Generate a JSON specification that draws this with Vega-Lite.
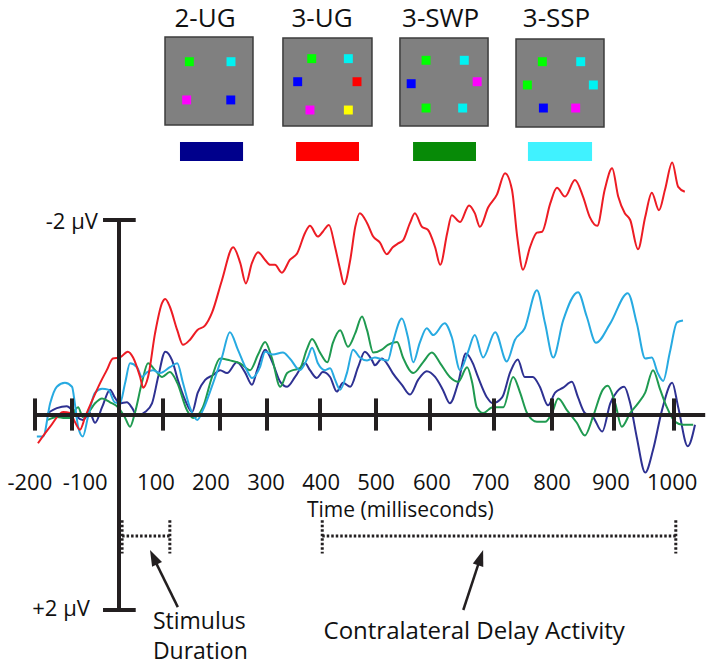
{
"$schema":"https://vega.github.io/schema/vega-lite/v6.json",
"width":714,"height":669,"padding":0,"autosize":{"type":"none"},
"background":"white",
"config":{"view":{"stroke":null},"text":{"font":"Open Sans","color":"#111111"}},
"datasets":{
"erp":[
{"c":"2-UG","t":-165,"v":-0.02},{"c":"2-UG","t":-141,"v":-0.07},{"c":"2-UG","t":-114,"v":-0.09},{"c":"2-UG","t":-100,"v":-0.05},{"c":"2-UG","t":-89,"v":0.02},{"c":"2-UG","t":-77,"v":0.05},{"c":"2-UG","t":-62,"v":-0.02},{"c":"2-UG","t":-51,"v":0.08},{"c":"2-UG","t":-36,"v":-0.08},{"c":"2-UG","t":-19,"v":-0.26},{"c":"2-UG","t":-9,"v":-0.18},{"c":"2-UG","t":2,"v":-0.12},{"c":"2-UG","t":18,"v":-0.13},{"c":"2-UG","t":30,"v":-0.07},{"c":"2-UG","t":41,"v":0.01},{"c":"2-UG","t":59,"v":-0.03},{"c":"2-UG","t":75,"v":-0.12},{"c":"2-UG","t":89,"v":-0.39},{"c":"2-UG","t":104,"v":-0.65},{"c":"2-UG","t":116,"v":-0.56},{"c":"2-UG","t":126,"v":-0.36},{"c":"2-UG","t":139,"v":-0.15},{"c":"2-UG","t":151,"v":-0.03},{"c":"2-UG","t":161,"v":-0.23},{"c":"2-UG","t":174,"v":-0.36},{"c":"2-UG","t":188,"v":-0.41},{"c":"2-UG","t":200,"v":-0.46},{"c":"2-UG","t":215,"v":-0.43},{"c":"2-UG","t":236,"v":-0.54},{"c":"2-UG","t":253,"v":-0.44},{"c":"2-UG","t":268,"v":-0.31},{"c":"2-UG","t":279,"v":-0.46},{"c":"2-UG","t":296,"v":-0.67},{"c":"2-UG","t":311,"v":-0.53},{"c":"2-UG","t":325,"v":-0.34},{"c":"2-UG","t":338,"v":-0.29},{"c":"2-UG","t":353,"v":-0.39},{"c":"2-UG","t":372,"v":-0.53},{"c":"2-UG","t":381,"v":-0.46},{"c":"2-UG","t":394,"v":-0.38},{"c":"2-UG","t":405,"v":-0.44},{"c":"2-UG","t":418,"v":-0.39},{"c":"2-UG","t":430,"v":-0.24},{"c":"2-UG","t":441,"v":-0.33},{"c":"2-UG","t":454,"v":-0.29},{"c":"2-UG","t":468,"v":-0.49},{"c":"2-UG","t":480,"v":-0.65},{"c":"2-UG","t":493,"v":-0.56},{"c":"2-UG","t":498,"v":-0.51},{"c":"2-UG","t":511,"v":-0.58},{"c":"2-UG","t":520,"v":-0.53},{"c":"2-UG","t":531,"v":-0.43},{"c":"2-UG","t":548,"v":-0.31},{"c":"2-UG","t":563,"v":-0.21},{"c":"2-UG","t":578,"v":-0.36},{"c":"2-UG","t":594,"v":-0.45},{"c":"2-UG","t":608,"v":-0.39},{"c":"2-UG","t":620,"v":-0.26},{"c":"2-UG","t":631,"v":-0.12},{"c":"2-UG","t":644,"v":-0.33},{"c":"2-UG","t":656,"v":-0.63},{"c":"2-UG","t":667,"v":-0.53},{"c":"2-UG","t":675,"v":-0.39},{"c":"2-UG","t":689,"v":-0.18},{"c":"2-UG","t":698,"v":-0.12},{"c":"2-UG","t":714,"v":-0.18},{"c":"2-UG","t":728,"v":-0.44},{"c":"2-UG","t":741,"v":-0.57},{"c":"2-UG","t":753,"v":-0.39},{"c":"2-UG","t":767,"v":-0.39},{"c":"2-UG","t":779,"v":-0.29},{"c":"2-UG","t":793,"v":-0.10},{"c":"2-UG","t":805,"v":-0.23},{"c":"2-UG","t":818,"v":-0.28},{"c":"2-UG","t":832,"v":-0.34},{"c":"2-UG","t":842,"v":-0.18},{"c":"2-UG","t":853,"v":-0.02},{"c":"2-UG","t":866,"v":0.02},{"c":"2-UG","t":881,"v":0.17},{"c":"2-UG","t":894,"v":-0.12},{"c":"2-UG","t":905,"v":-0.24},{"c":"2-UG","t":917,"v":-0.29},{"c":"2-UG","t":927,"v":-0.12},{"c":"2-UG","t":938,"v":0.23},{"c":"2-UG","t":952,"v":0.59},{"c":"2-UG","t":965,"v":0.36},{"c":"2-UG","t":980,"v":-0.05},{"c":"2-UG","t":997,"v":-0.33},{"c":"2-UG","t":1007,"v":-0.08},{"c":"2-UG","t":1023,"v":0.32},{"c":"2-UG","t":1035,"v":0.10},
{"c":"3-SWP","t":-165,"v":0.05},{"c":"3-SWP","t":-141,"v":0.02},{"c":"3-SWP","t":-119,"v":0.03},{"c":"3-SWP","t":-105,"v":0.03},{"c":"3-SWP","t":-94,"v":-0.05},{"c":"3-SWP","t":-87,"v":-0.08},{"c":"3-SWP","t":-77,"v":0.02},{"c":"3-SWP","t":-66,"v":-0.02},{"c":"3-SWP","t":-51,"v":-0.12},{"c":"3-SWP","t":-36,"v":-0.17},{"c":"3-SWP","t":-19,"v":-0.13},{"c":"3-SWP","t":-2,"v":-0.08},{"c":"3-SWP","t":14,"v":0.03},{"c":"3-SWP","t":25,"v":0.12},{"c":"3-SWP","t":36,"v":-0.02},{"c":"3-SWP","t":52,"v":-0.33},{"c":"3-SWP","t":66,"v":-0.53},{"c":"3-SWP","t":82,"v":-0.46},{"c":"3-SWP","t":98,"v":-0.39},{"c":"3-SWP","t":112,"v":-0.44},{"c":"3-SWP","t":125,"v":-0.33},{"c":"3-SWP","t":142,"v":-0.05},{"c":"3-SWP","t":153,"v":0.03},{"c":"3-SWP","t":170,"v":-0.08},{"c":"3-SWP","t":186,"v":-0.39},{"c":"3-SWP","t":200,"v":-0.58},{"c":"3-SWP","t":221,"v":-0.56},{"c":"3-SWP","t":243,"v":-0.53},{"c":"3-SWP","t":264,"v":-0.46},{"c":"3-SWP","t":281,"v":-0.62},{"c":"3-SWP","t":296,"v":-0.75},{"c":"3-SWP","t":309,"v":-0.59},{"c":"3-SWP","t":325,"v":-0.29},{"c":"3-SWP","t":338,"v":-0.43},{"c":"3-SWP","t":349,"v":-0.46},{"c":"3-SWP","t":362,"v":-0.48},{"c":"3-SWP","t":375,"v":-0.67},{"c":"3-SWP","t":385,"v":-0.78},{"c":"3-SWP","t":400,"v":-0.64},{"c":"3-SWP","t":413,"v":-0.54},{"c":"3-SWP","t":423,"v":-0.74},{"c":"3-SWP","t":436,"v":-0.87},{"c":"3-SWP","t":450,"v":-0.70},{"c":"3-SWP","t":463,"v":-0.84},{"c":"3-SWP","t":475,"v":-1.01},{"c":"3-SWP","t":484,"v":-0.87},{"c":"3-SWP","t":495,"v":-0.64},{"c":"3-SWP","t":511,"v":-0.67},{"c":"3-SWP","t":522,"v":-0.72},{"c":"3-SWP","t":539,"v":-0.75},{"c":"3-SWP","t":550,"v":-0.59},{"c":"3-SWP","t":569,"v":-0.43},{"c":"3-SWP","t":587,"v":-0.54},{"c":"3-SWP","t":603,"v":-0.64},{"c":"3-SWP","t":616,"v":-0.53},{"c":"3-SWP","t":631,"v":-0.39},{"c":"3-SWP","t":644,"v":-0.34},{"c":"3-SWP","t":658,"v":-0.49},{"c":"3-SWP","t":666,"v":-0.33},{"c":"3-SWP","t":673,"v":-0.08},{"c":"3-SWP","t":683,"v":-0.02},{"c":"3-SWP","t":698,"v":-0.08},{"c":"3-SWP","t":716,"v":-0.08},{"c":"3-SWP","t":733,"v":-0.39},{"c":"3-SWP","t":745,"v":-0.23},{"c":"3-SWP","t":757,"v":-0.02},{"c":"3-SWP","t":774,"v":0.07},{"c":"3-SWP","t":788,"v":0.07},{"c":"3-SWP","t":800,"v":-0.02},{"c":"3-SWP","t":810,"v":-0.17},{"c":"3-SWP","t":824,"v":-0.05},{"c":"3-SWP","t":840,"v":0.08},{"c":"3-SWP","t":853,"v":0.21},{"c":"3-SWP","t":866,"v":0.02},{"c":"3-SWP","t":882,"v":-0.26},{"c":"3-SWP","t":890,"v":-0.30},{"c":"3-SWP","t":902,"v":-0.12},{"c":"3-SWP","t":913,"v":0.12},{"c":"3-SWP","t":927,"v":-0.02},{"c":"3-SWP","t":940,"v":-0.12},{"c":"3-SWP","t":952,"v":-0.23},{"c":"3-SWP","t":965,"v":-0.46},{"c":"3-SWP","t":977,"v":-0.26},{"c":"3-SWP","t":988,"v":-0.08},{"c":"3-SWP","t":1002,"v":0.07},{"c":"3-SWP","t":1015,"v":0.10},{"c":"3-SWP","t":1032,"v":0.10},
{"c":"3-SSP","t":-195,"v":0.22},{"c":"3-SSP","t":-178,"v":0.22},{"c":"3-SSP","t":-159,"v":-0.12},{"c":"3-SSP","t":-141,"v":-0.29},{"c":"3-SSP","t":-119,"v":-0.33},{"c":"3-SSP","t":-100,"v":-0.29},{"c":"3-SSP","t":-94,"v":-0.12},{"c":"3-SSP","t":-87,"v":0.12},{"c":"3-SSP","t":-77,"v":0.22},{"c":"3-SSP","t":-66,"v":0.02},{"c":"3-SSP","t":-51,"v":-0.23},{"c":"3-SSP","t":-36,"v":-0.27},{"c":"3-SSP","t":-23,"v":-0.26},{"c":"3-SSP","t":-9,"v":-0.13},{"c":"3-SSP","t":2,"v":-0.12},{"c":"3-SSP","t":14,"v":-0.33},{"c":"3-SSP","t":25,"v":-0.53},{"c":"3-SSP","t":41,"v":-0.49},{"c":"3-SSP","t":52,"v":-0.39},{"c":"3-SSP","t":64,"v":-0.44},{"c":"3-SSP","t":77,"v":-0.46},{"c":"3-SSP","t":93,"v":-0.43},{"c":"3-SSP","t":112,"v":-0.49},{"c":"3-SSP","t":125,"v":-0.53},{"c":"3-SSP","t":135,"v":-0.33},{"c":"3-SSP","t":147,"v":-0.08},{"c":"3-SSP","t":160,"v":0.05},{"c":"3-SSP","t":170,"v":-0.05},{"c":"3-SSP","t":188,"v":-0.33},{"c":"3-SSP","t":204,"v":-0.59},{"c":"3-SSP","t":221,"v":-0.85},{"c":"3-SSP","t":238,"v":-0.67},{"c":"3-SSP","t":257,"v":-0.46},{"c":"3-SSP","t":268,"v":-0.38},{"c":"3-SSP","t":285,"v":-0.49},{"c":"3-SSP","t":296,"v":-0.65},{"c":"3-SSP","t":311,"v":-0.62},{"c":"3-SSP","t":330,"v":-0.64},{"c":"3-SSP","t":343,"v":-0.58},{"c":"3-SSP","t":362,"v":-0.46},{"c":"3-SSP","t":377,"v":-0.59},{"c":"3-SSP","t":385,"v":-0.69},{"c":"3-SSP","t":396,"v":-0.53},{"c":"3-SSP","t":409,"v":-0.46},{"c":"3-SSP","t":418,"v":-0.48},{"c":"3-SSP","t":427,"v":-0.36},{"c":"3-SSP","t":436,"v":-0.26},{"c":"3-SSP","t":448,"v":-0.43},{"c":"3-SSP","t":459,"v":-0.67},{"c":"3-SSP","t":471,"v":-0.59},{"c":"3-SSP","t":484,"v":-0.56},{"c":"3-SSP","t":498,"v":-0.59},{"c":"3-SSP","t":511,"v":-0.57},{"c":"3-SSP","t":522,"v":-0.56},{"c":"3-SSP","t":531,"v":-0.74},{"c":"3-SSP","t":548,"v":-0.99},{"c":"3-SSP","t":559,"v":-0.80},{"c":"3-SSP","t":569,"v":-0.54},{"c":"3-SSP","t":581,"v":-0.74},{"c":"3-SSP","t":594,"v":-0.89},{"c":"3-SSP","t":605,"v":-0.82},{"c":"3-SSP","t":623,"v":-0.94},{"c":"3-SSP","t":634,"v":-0.80},{"c":"3-SSP","t":647,"v":-0.46},{"c":"3-SSP","t":659,"v":-0.64},{"c":"3-SSP","t":670,"v":-0.82},{"c":"3-SSP","t":683,"v":-0.59},{"c":"3-SSP","t":702,"v":-0.85},{"c":"3-SSP","t":722,"v":-0.55},{"c":"3-SSP","t":736,"v":-0.77},{"c":"3-SSP","t":753,"v":-0.89},{"c":"3-SSP","t":774,"v":-1.28},{"c":"3-SSP","t":788,"v":-0.94},{"c":"3-SSP","t":802,"v":-0.59},{"c":"3-SSP","t":818,"v":-0.97},{"c":"3-SSP","t":842,"v":-1.26},{"c":"3-SSP","t":856,"v":-1.01},{"c":"3-SSP","t":871,"v":-0.74},{"c":"3-SSP","t":894,"v":-0.94},{"c":"3-SSP","t":923,"v":-1.25},{"c":"3-SSP","t":938,"v":-0.94},{"c":"3-SSP","t":952,"v":-0.58},{"c":"3-SSP","t":963,"v":-0.59},{"c":"3-SSP","t":973,"v":-0.43},{"c":"3-SSP","t":982,"v":-0.35},{"c":"3-SSP","t":993,"v":-0.64},{"c":"3-SSP","t":1005,"v":-0.95},{"c":"3-SSP","t":1015,"v":-0.97},
{"c":"3-UG","t":-192,"v":0.29},{"c":"3-UG","t":-159,"v":0.12},{"c":"3-UG","t":-124,"v":-0.03},{"c":"3-UG","t":-105,"v":-0.02},{"c":"3-UG","t":-94,"v":0.07},{"c":"3-UG","t":-83,"v":0.15},{"c":"3-UG","t":-72,"v":0.02},{"c":"3-UG","t":-57,"v":-0.15},{"c":"3-UG","t":-40,"v":-0.33},{"c":"3-UG","t":-26,"v":-0.46},{"c":"3-UG","t":-13,"v":-0.58},{"c":"3-UG","t":2,"v":-0.59},{"c":"3-UG","t":20,"v":-0.65},{"c":"3-UG","t":32,"v":-0.59},{"c":"3-UG","t":48,"v":-0.39},{"c":"3-UG","t":55,"v":-0.28},{"c":"3-UG","t":66,"v":-0.39},{"c":"3-UG","t":82,"v":-0.84},{"c":"3-UG","t":98,"v":-1.15},{"c":"3-UG","t":104,"v":-1.19},{"c":"3-UG","t":112,"v":-1.11},{"c":"3-UG","t":125,"v":-0.87},{"c":"3-UG","t":135,"v":-0.72},{"c":"3-UG","t":147,"v":-0.77},{"c":"3-UG","t":160,"v":-0.87},{"c":"3-UG","t":174,"v":-0.92},{"c":"3-UG","t":186,"v":-1.05},{"c":"3-UG","t":204,"v":-1.38},{"c":"3-UG","t":228,"v":-1.72},{"c":"3-UG","t":243,"v":-1.56},{"c":"3-UG","t":255,"v":-1.35},{"c":"3-UG","t":268,"v":-1.56},{"c":"3-UG","t":281,"v":-1.67},{"c":"3-UG","t":296,"v":-1.59},{"c":"3-UG","t":306,"v":-1.54},{"c":"3-UG","t":315,"v":-1.54},{"c":"3-UG","t":328,"v":-1.46},{"c":"3-UG","t":343,"v":-1.59},{"c":"3-UG","t":357,"v":-1.66},{"c":"3-UG","t":372,"v":-1.87},{"c":"3-UG","t":381,"v":-1.94},{"c":"3-UG","t":396,"v":-1.83},{"c":"3-UG","t":405,"v":-1.88},{"c":"3-UG","t":416,"v":-1.95},{"c":"3-UG","t":427,"v":-1.72},{"c":"3-UG","t":436,"v":-1.49},{"c":"3-UG","t":443,"v":-1.34},{"c":"3-UG","t":454,"v":-1.59},{"c":"3-UG","t":463,"v":-1.93},{"c":"3-UG","t":471,"v":-2.07},{"c":"3-UG","t":484,"v":-1.97},{"c":"3-UG","t":495,"v":-1.83},{"c":"3-UG","t":507,"v":-1.77},{"c":"3-UG","t":520,"v":-1.65},{"c":"3-UG","t":531,"v":-1.72},{"c":"3-UG","t":541,"v":-1.76},{"c":"3-UG","t":550,"v":-1.79},{"c":"3-UG","t":563,"v":-1.97},{"c":"3-UG","t":572,"v":-2.07},{"c":"3-UG","t":585,"v":-1.93},{"c":"3-UG","t":596,"v":-1.90},{"c":"3-UG","t":608,"v":-1.72},{"c":"3-UG","t":616,"v":-1.54},{"c":"3-UG","t":627,"v":-1.87},{"c":"3-UG","t":634,"v":-2.05},{"c":"3-UG","t":647,"v":-1.98},{"c":"3-UG","t":661,"v":-2.15},{"c":"3-UG","t":670,"v":-2.07},{"c":"3-UG","t":678,"v":-1.93},{"c":"3-UG","t":691,"v":-2.13},{"c":"3-UG","t":705,"v":-2.26},{"c":"3-UG","t":719,"v":-2.48},{"c":"3-UG","t":731,"v":-2.31},{"c":"3-UG","t":740,"v":-1.83},{"c":"3-UG","t":750,"v":-1.49},{"c":"3-UG","t":762,"v":-1.72},{"c":"3-UG","t":774,"v":-1.87},{"c":"3-UG","t":783,"v":-1.88},{"c":"3-UG","t":797,"v":-2.17},{"c":"3-UG","t":808,"v":-2.33},{"c":"3-UG","t":821,"v":-2.24},{"c":"3-UG","t":837,"v":-2.41},{"c":"3-UG","t":850,"v":-2.24},{"c":"3-UG","t":861,"v":-2.03},{"c":"3-UG","t":873,"v":-1.94},{"c":"3-UG","t":885,"v":-2.31},{"c":"3-UG","t":897,"v":-2.53},{"c":"3-UG","t":907,"v":-2.24},{"c":"3-UG","t":918,"v":-2.07},{"c":"3-UG","t":927,"v":-2.00},{"c":"3-UG","t":940,"v":-1.70},{"c":"3-UG","t":952,"v":-2.03},{"c":"3-UG","t":963,"v":-2.28},{"c":"3-UG","t":975,"v":-2.10},{"c":"3-UG","t":985,"v":-2.31},{"c":"3-UG","t":997,"v":-2.59},{"c":"3-UG","t":1007,"v":-2.34},{"c":"3-UG","t":1018,"v":-2.29}
],
"ticks":[{"t":-200,"lt":-214,"label":"-200"},{"t":-100,"lt":-72,"label":"-100"},{"t":100,"lt":84,"label":"100"},{"t":200,"lt":184,"label":"200"},{"t":300,"lt":298,"label":"300"},{"t":400,"lt":402,"label":"400"},{"t":500,"lt":500,"label":"500"},{"t":600,"lt":603,"label":"600"},{"t":700,"lt":695,"label":"700"},{"t":800,"lt":800,"label":"800"},{"t":900,"lt":895,"label":"900"},{"t":1000,"lt":997,"label":"1000"}],
"panels":[
{"c":"2-UG","x0":-3.76,"x1":3.76,"y0":-3.76,"y1":3.76,"tx":-0.34,"bx0":-2.48,"bx1":2.91},
{"c":"3-UG","x0":6.32,"x1":13.93,"y0":-3.68,"y1":3.85,"tx":9.66,"bx0":7.44,"bx1":12.82},
{"c":"3-SWP","x0":16.32,"x1":23.85,"y0":-3.68,"y1":3.85,"tx":19.8,"bx0":17.44,"bx1":22.82},
{"c":"3-SSP","x0":26.24,"x1":33.76,"y0":-3.59,"y1":3.93,"tx":29.7,"bx0":27.26,"bx1":32.74}
],
"dots":[
{"c":"2-UG","item":"green","x":-1.68,"y":-1.65},{"c":"2-UG","item":"cyan","x":1.88,"y":-1.65},{"c":"2-UG","item":"magenta","x":-1.91,"y":1.62},{"c":"2-UG","item":"blue","x":1.86,"y":1.62},
{"c":"3-UG","item":"green","x":8.78,"y":-1.91},{"c":"3-UG","item":"cyan","x":11.91,"y":-1.91},{"c":"3-UG","item":"blue","x":7.58,"y":0.06},{"c":"3-UG","item":"red","x":12.65,"y":0.06},{"c":"3-UG","item":"magenta","x":8.63,"y":2.48},{"c":"3-UG","item":"yellow","x":11.91,"y":2.48},
{"c":"3-SWP","item":"green","x":18.55,"y":-1.77},{"c":"3-SWP","item":"cyan","x":21.82,"y":-1.77},{"c":"3-SWP","item":"blue","x":17.28,"y":0.23},{"c":"3-SWP","item":"magenta","x":22.92,"y":0.06},{"c":"3-SWP","item":"green","x":18.55,"y":2.31},{"c":"3-SWP","item":"cyan","x":21.68,"y":2.31},
{"c":"3-SSP","item":"green","x":28.49,"y":-1.65},{"c":"3-SSP","item":"cyan","x":31.77,"y":-1.65},{"c":"3-SSP","item":"green","x":27.21,"y":0.34},{"c":"3-SSP","item":"cyan","x":32.85,"y":0.34},{"c":"3-SSP","item":"blue","x":28.58,"y":2.31},{"c":"3-SSP","item":"magenta","x":31.34,"y":2.31}
]
},
"layer":[
{"layer":[
{"data":{"name":"erp"},"mark":{"type":"line","strokeWidth":2,"interpolate":"monotone"},
 "encoding":{
  "x":{"field":"t","type":"quantitative","axis":null,"scale":{"type":"linear","domain":[-200,-100,0,100,200,300,400,500,600,700,800,900,1000],"range":[35,72,119,163,220,267,320,376,430,494,552,614,674],"nice":false,"zero":false}},
  "y":{"field":"v","type":"quantitative","axis":null,"scale":{"type":"linear","domain":[-2,2],"range":[220,610],"nice":false,"zero":false}},
  "color":{"field":"c","type":"nominal","legend":null,"scale":{"domain":["2-UG","3-UG","3-SWP","3-SSP"],"range":["#2e3192","#ed1c24","#1f9a50","#27aae1"]}},
  "detail":{"field":"c"}
 }},
{"data":{"values":[{}]},"mark":{"type":"rule","strokeWidth":4,"color":"#231f20"},
 "encoding":{"x":{"datum":-205,"type":"quantitative"},"x2":{"datum":1052},"y":{"datum":0,"type":"quantitative"}}},
{"data":{"name":"ticks"},"mark":{"type":"rule","strokeWidth":4,"color":"#231f20"},
 "encoding":{"x":{"field":"t","type":"quantitative"},"y":{"datum":-0.17,"type":"quantitative"},"y2":{"datum":0.16}}},
{"data":{"name":"ticks"},"mark":{"type":"text","fontSize":22,"align":"center","baseline":"middle"},
 "encoding":{"x":{"field":"lt","type":"quantitative"},"y":{"datum":0.70,"type":"quantitative"},"text":{"field":"label"}}},
{"data":{"values":[{}]},"mark":{"type":"rule","strokeWidth":4,"color":"#231f20"},
 "encoding":{"x":{"datum":0,"type":"quantitative"},"y":{"datum":-2,"type":"quantitative"},"y2":{"datum":2}}},
{"data":{"values":[{"v":-2},{"v":2}]},"mark":{"type":"rule","strokeWidth":4,"color":"#231f20"},
 "encoding":{"x":{"datum":-34,"type":"quantitative"},"x2":{"datum":38},"y":{"field":"v","type":"quantitative"}}},
{"data":{"values":[{}]},"mark":{"type":"text","fontSize":22,"align":"right","baseline":"middle","text":"-2 µV"},
 "encoding":{"x":{"datum":-45,"type":"quantitative"},"y":{"datum":-1.98,"type":"quantitative"}}},
{"data":{"values":[{}]},"mark":{"type":"text","fontSize":22,"align":"right","baseline":"middle","text":"+2 µV"},
 "encoding":{"x":{"datum":-62,"type":"quantitative"},"y":{"datum":1.99,"type":"quantitative"}}},
{"data":{"values":[{}]},"mark":{"type":"text","fontSize":21,"align":"center","baseline":"middle","text":"Time (milliseconds)"},
 "encoding":{"x":{"datum":545,"type":"quantitative"},"y":{"datum":0.98,"type":"quantitative"}}},
{"data":{"values":[{"a":7,"b":112},{"a":404,"b":1003}]},"mark":{"type":"rule","strokeWidth":3,"strokeDash":[2.5,2],"color":"#231f20"},
 "encoding":{"x":{"field":"a","type":"quantitative"},"x2":{"field":"b"},"y":{"datum":1.24,"type":"quantitative"}}},
{"data":{"values":[{"a":7},{"a":112},{"a":404},{"a":1003}]},"mark":{"type":"rule","strokeWidth":3,"strokeDash":[2.5,2],"color":"#231f20"},
 "encoding":{"x":{"field":"a","type":"quantitative"},"y":{"datum":1.08,"type":"quantitative"},"y2":{"datum":1.42}}},
{"data":{"values":[{}]},"mark":{"type":"rule","strokeWidth":2.5,"color":"#231f20"},
 "encoding":{"x":{"datum":126,"type":"quantitative"},"y":{"datum":1.97,"type":"quantitative"},"x2":{"datum":78},"y2":{"datum":1.46}}},
{"data":{"values":[{}]},"mark":{"type":"rule","strokeWidth":2.5,"color":"#231f20"},
 "encoding":{"x":{"datum":652,"type":"quantitative"},"y":{"datum":2.0,"type":"quantitative"},"x2":{"datum":679},"y2":{"datum":1.46}}},
{"data":{"values":[{}]},"mark":{"type":"point","shape":"M0,0L0.55,1.6L-0.55,1.6Z","size":400,"filled":true,"opacity":1,"color":"#231f20","angle":334},
 "encoding":{"x":{"datum":70.5,"type":"quantitative"},"y":{"datum":1.385,"type":"quantitative"}}},
{"data":{"values":[{}]},"mark":{"type":"point","shape":"M0,0L0.55,1.6L-0.55,1.6Z","size":400,"filled":true,"opacity":1,"color":"#231f20","angle":18.4},
 "encoding":{"x":{"datum":683,"type":"quantitative"},"y":{"datum":1.385,"type":"quantitative"}}},
{"data":{"values":[{}]},"mark":{"type":"text","fontSize":23,"align":"left","baseline":"middle","lineHeight":30,"text":["Stimulus","Duration"]},
 "encoding":{"x":{"datum":77,"type":"quantitative"},"y":{"datum":2.12,"type":"quantitative"}}},
{"data":{"values":[{}]},"mark":{"type":"text","fontSize":24,"align":"center","baseline":"middle","text":"Contralateral Delay Activity"},
 "encoding":{"x":{"datum":669,"type":"quantitative"},"y":{"datum":2.23,"type":"quantitative"}}}
]},
{"layer":[
{"data":{"name":"panels"},"mark":{"type":"rect","fill":"#808080","stroke":"#3c3c3c","strokeWidth":1.5},
 "encoding":{
  "x":{"field":"x0","type":"quantitative","axis":null,"scale":{"type":"linear","domain":[0,30],"range":[209,560],"nice":false,"zero":false}},
  "x2":{"field":"x1"},
  "y":{"field":"y0","type":"quantitative","axis":null,"scale":{"type":"linear","domain":[0,10],"range":[81,198],"nice":false,"zero":false}},
  "y2":{"field":"y1"}
 }},
{"data":{"name":"dots"},"mark":{"type":"point","shape":"square","filled":true,"size":80,"opacity":1,"strokeWidth":0},
 "encoding":{"x":{"field":"x","type":"quantitative"},"y":{"field":"y","type":"quantitative"},
  "fill":{"field":"item","type":"nominal","legend":null,"scale":{"domain":["green","cyan","blue","magenta","red","yellow"],"range":["#00ff00","#00f2f2","#0000ff","#ff00ff","#ff0000","#ffff00"]}}}},
{"data":{"name":"panels"},"mark":{"type":"rect"},
 "encoding":{"x":{"field":"bx0","type":"quantitative"},"x2":{"field":"bx1"},"y":{"datum":5.21,"type":"quantitative"},"y2":{"datum":6.84},
  "color":{"field":"c","type":"nominal","legend":null,"scale":{"domain":["2-UG","3-UG","3-SWP","3-SSP"],"range":["#00008c","#ff0000","#078a07","#40f2ff"]}}}},
{"data":{"name":"panels"},"mark":{"type":"text","fontSize":26,"align":"center","baseline":"middle"},
 "encoding":{"x":{"field":"tx","type":"quantitative"},"y":{"datum":-5.3,"type":"quantitative"},"text":{"field":"c"}}}
]}
],
"resolve":{"scale":{"x":"independent","y":"independent","color":"independent","fill":"independent"}}
}
